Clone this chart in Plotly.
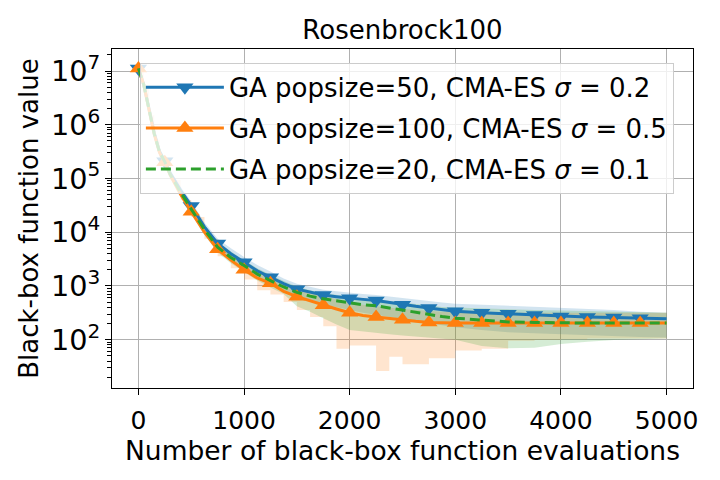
import plotly.graph_objects as go

EVALS = [0, 50, 100, 150, 200, 250, 300, 400, 500, 625, 750, 875, 1000, 1125,
         1250, 1375, 1500, 1625, 1750, 1875, 2000, 2125, 2250, 2375, 2500, 2625,
         2750, 2875, 3000, 3250, 3500, 3750, 4000, 4250, 4500, 4750, 5000]

# GA popsize=50, CMA-ES sigma=0.2
blue_mean = [11200000, 5620000, 2000000, 708000, 316000, 209000, 126000, 60300, 30900,
             12600, 6170, 3980, 2750, 1910, 1450, 1100, 871, 759, 676, 631, 589, 562,
             537, 490, 447, 417, 389, 363, 339, 316, 302, 288, 269, 263, 257, 251, 245]
blue_low = [10000000, 5010000, 1660000, 589000, 269000, 178000, 105000, 50100, 25100,
            10000, 4790, 3020, 2000, 1380, 1050, 794, 631, 525, 457, 398, 355, 316,
            288, 263, 240, 219, 200, 182, 170, 151, 138, 132, 126, 120, 115, 112, 110]
blue_high = [12600000, 6310000, 2340000, 832000, 372000, 245000, 148000, 70800, 37200,
             15100, 7590, 5010, 3470, 2450, 1860, 1380, 1100, 955, 851, 794, 741, 708,
             676, 631, 589, 550, 513, 490, 468, 447, 427, 417, 398, 380, 355, 331, 316]

# GA popsize=100, CMA-ES sigma=0.5 (band drawn as steps)
orange_mean = [11200000, 5620000, 1910000, 661000, 302000, 200000, 117000, 50100, 24000,
               10000, 4790, 3020, 2000, 1410, 1120, 794, 631, 525, 437, 372, 316, 282,
               263, 245, 234, 219, 209, 204, 204, 204, 204, 204, 205, 204, 204, 204, 204]
orange_low = [10000000, 4790000, 1510000, 525000, 240000, 158000, 93300, 39800, 19100,
              7590, 3550, 2140, 1320, 832, 692, 501, 355, 263, 178, 68, 78, 78,
              26, 48, 35, 35, 45, 45, 63, 68, 95, 100, 102, 105, 105, 105, 105]
orange_high = [12600000, 6310000, 2240000, 794000, 355000, 234000, 138000, 60300, 30200,
               12600, 6310, 3980, 2750, 2000, 1580, 1150, 912, 759, 646, 562, 501, 447,
               417, 389, 372, 355, 339, 331, 331, 324, 316, 316, 316, 316, 316, 316, 316]

# GA popsize=20, CMA-ES sigma=0.1
green_mean = [11200000, 5620000, 1950000, 676000, 309000, 204000, 120000, 55000, 26900,
              11200, 5250, 3390, 2400, 1660, 1260, 955, 759, 646, 575, 525, 479, 447,
              427, 389, 355, 316, 288, 269, 251, 229, 214, 209, 204, 204, 204, 204, 204]
green_low = [10000000, 5010000, 1620000, 562000, 257000, 170000, 100000, 45700, 21900,
             8910, 4170, 2630, 1820, 1260, 933, 708, 417, 331, 251, 191, 151, 141,
             132, 126, 120, 115, 110, 105, 100, 76, 69, 71, 83, 91, 98, 102, 105]
green_high = [12600000, 6310000, 2290000, 794000, 363000, 240000, 141000, 66100, 33100,
              13800, 6610, 4370, 3020, 2140, 1620, 1230, 977, 832, 741, 676, 631, 589,
              562, 525, 490, 457, 427, 407, 398, 380, 363, 355, 347, 339, 331, 324, 316]

LABELS = [
    "GA popsize=50, CMA-ES <i>σ</i> = 0.2",
    "GA popsize=100, CMA-ES <i>σ</i> = 0.5",
    "GA popsize=20, CMA-ES <i>σ</i> = 0.1",
]
X_TICKS = [0, 1000, 2000, 3000, 4000, 5000]
MARK_EVERY = 250

FONT = "DejaVu Sans"
series = [
    (blue_mean, blue_low, blue_high, "#1f77b4", "rgba(31,119,180,0.2)", "triangle-down", "solid", "linear"),
    (orange_mean, orange_low, orange_high, "#ff7f0e", "rgba(255,127,14,0.2)", "triangle-up", "solid", "hv"),
    (green_mean, green_low, green_high, "#2ca02c", "rgba(44,160,44,0.2)", None, "10px,5px", "linear"),
]

fig = go.Figure()

# shaded bands first
for mean, low, high, col, fill, sym, dash, shape in series:
    fig.add_trace(go.Scatter(x=EVALS, y=low, mode="lines", line=dict(width=0, shape=shape),
                             showlegend=False, hoverinfo="skip"))
    fig.add_trace(go.Scatter(x=EVALS, y=high, mode="lines", line=dict(width=0),
                             fill="tonexty", fillcolor=fill, showlegend=False,
                             hoverinfo="skip"))

# mean curves, markers every 250 evaluations
for i, (mean, low, high, col, fill, sym, dash, shape) in enumerate(series):
    fig.add_trace(go.Scatter(x=EVALS, y=mean, mode="lines",
                             line=dict(color=col, width=3, dash=dash),
                             showlegend=False))
    if sym:
        mx = [x for x in EVALS if x % MARK_EVERY == 0 and x < EVALS[-1]]
        my = [m for x, m in zip(EVALS, mean) if x % MARK_EVERY == 0 and x < EVALS[-1]]
        fig.add_trace(go.Scatter(x=mx, y=my, mode="markers",
                                 marker=dict(symbol=sym, size=15, color=col),
                                 showlegend=False))
    # legend entry
    fig.add_trace(go.Scatter(x=[None], y=[None], name=LABELS[i],
                             mode="lines+markers" if sym else "lines",
                             line=dict(color=col, width=3, dash=dash),
                             marker=dict(symbol=sym or "circle", size=15, color=col),
                             legendgroup=str(i)))

axis_common = dict(
    showline=True, linecolor="black", linewidth=1.2, mirror=True,
    ticks="outside", ticklen=6, tickwidth=1.2, tickcolor="black",
    showgrid=True, gridcolor="#b0b0b0", gridwidth=1.3, zeroline=False,
    automargin=False,
)

fig.update_layout(
    width=720, height=480,
    margin=dict(l=104, r=35, t=41, b=100),
    paper_bgcolor="white", plot_bgcolor="white",
    font=dict(family=FONT, size=26, color="black"),
    title=dict(text="Rosenbrock100", x=0.5, xref="paper", xanchor="center",
               y=1 - 22 / 480, yanchor="middle", font=dict(size=26)),
    xaxis=dict(range=[-250, 5250], tickvals=X_TICKS, ticklabelstandoff=4,
               tickfont=dict(family=FONT, size=25, color="black"),
               title=dict(text="Number of black-box function evaluations",
                          standoff=0, font=dict(size=26.5)),
               **axis_common),
    yaxis=dict(type="log", range=[1.10, 7.41], dtick=1, exponentformat="power",
               ticklabelstandoff=0,
               tickfont=dict(family=FONT, size=23, color="black"),
               title=dict(text="Black-box function value", standoff=4,
                          font=dict(size=26)),
               minor=dict(ticks="outside", ticklen=4, tickcolor="black",
                          showgrid=False),
               **axis_common),
    legend=dict(x=0.048, y=0.959, xanchor="left", yanchor="top",
                bgcolor="rgba(255,255,255,0.8)", bordercolor="#cccccc",
                borderwidth=1, font=dict(size=26), traceorder="grouped",
                tracegroupgap=4, itemwidth=78),
)

fig.write_html("out.html")
